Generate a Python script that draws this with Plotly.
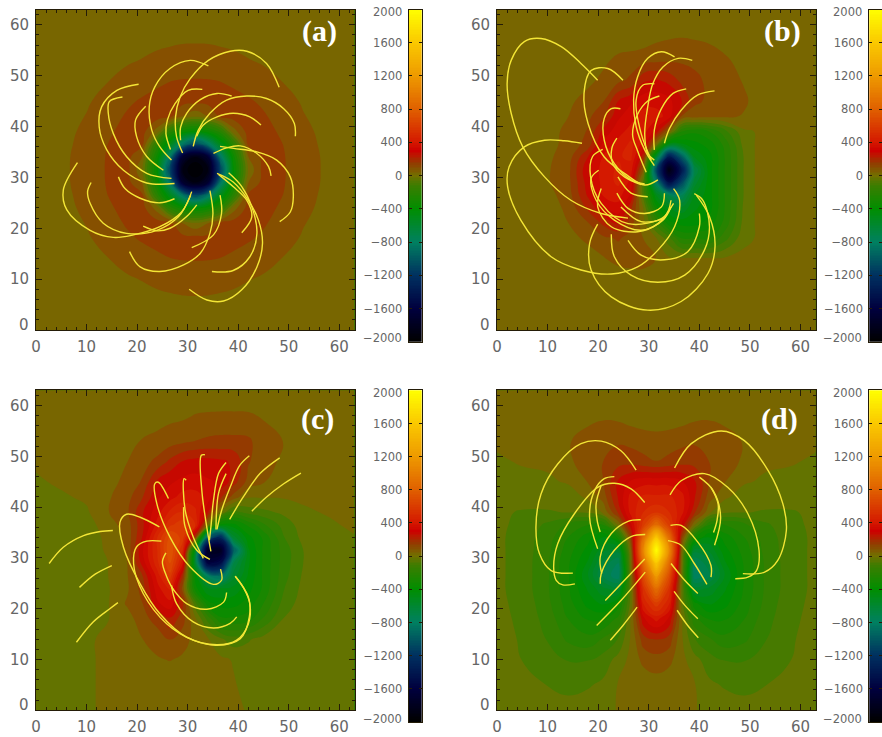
import plotly.graph_objects as go

W, H = 882, 737

# ---------- data ----------
x_grid = [0, 5, 10, 14, 18, 21, 24, 26.5, 29, 31.5, 34, 36.5, 39, 42, 45, 49, 53, 58, 63]
y_rows = [63, 58, 53, 49, 45, 42, 39, 36.5, 34, 31.5, 29, 26.5, 24, 21, 18, 14, 10, 5, 0]

# values in hundreds, rows listed from the top of each panel down
z_a = [
 [.05,.05,.05,.05,.05,.1,.13,.15,.17,.17,.17,.15,.13,.1,.05,.05,.05,.05,.05],
 [.05,.05,.05,.16,.28,.35,.41,.44,.47,.475,.47,.44,.41,.35,.28,.16,.05,.05,.05],
 [.05,.05,.24,.4,.54,.64,.75,.82,.875,.885,.875,.82,.75,.64,.54,.4,.24,.05,.05],
 [.05,.16,.4,.585,.82,1,1.146,1.23,1.27,1.28,1.27,1.23,1.146,1,.82,.585,.4,.16,.05],
 [.05,.28,.54,.82,1.146,1.3,1.4,1.44,1.47,1.48,1.47,1.44,1.4,1.3,1.146,.82,.54,.28,.05],
 [.1,.35,.64,1,1.3,1.42,1.5,1.4,.6,.1,.6,1.4,1.5,1.42,1.3,1,.64,.35,.1],
 [.13,.41,.75,1.146,1.4,1.5,.3,-2.2,-3.5,-4,-3.5,-2.2,.3,1.5,1.4,1.146,.75,.41,.13],
 [.15,.44,.82,1.23,1.44,1.4,-2.2,-5,-8.5,-11,-8.5,-5,-2.2,1.4,1.44,1.23,.82,.44,.15],
 [.17,.47,.875,1.27,1.47,.6,-3.5,-8.5,-17,-19,-17,-8.5,-3.5,.6,1.47,1.27,.875,.47,.17],
 [.17,.475,.885,1.28,1.48,.1,-4,-11,-19,-20,-19,-11,-4,.1,1.48,1.28,.885,.475,.17],
 [.17,.47,.875,1.27,1.47,.6,-3.5,-8.5,-17,-19,-17,-8.5,-3.5,.6,1.47,1.27,.875,.47,.17],
 [.15,.44,.82,1.23,1.44,1.4,-2.2,-5,-8.5,-11,-8.5,-5,-2.2,1.4,1.44,1.23,.82,.44,.15],
 [.13,.41,.75,1.146,1.4,1.5,.3,-2.2,-3.5,-4,-3.5,-2.2,.3,1.5,1.4,1.146,.75,.41,.13],
 [.1,.35,.64,1,1.3,1.42,1.5,1.4,.6,.1,.6,1.4,1.5,1.42,1.3,1,.64,.35,.1],
 [.05,.28,.54,.82,1.146,1.3,1.4,1.44,1.47,1.48,1.47,1.44,1.4,1.3,1.146,.82,.54,.28,.05],
 [.05,.16,.4,.585,.82,1,1.146,1.23,1.27,1.28,1.27,1.23,1.146,1,.82,.585,.4,.16,.05],
 [.05,.05,.24,.4,.54,.64,.75,.82,.875,.885,.875,.82,.75,.64,.54,.4,.24,.05,.05],
 [.05,.05,.05,.16,.28,.35,.41,.44,.47,.475,.47,.44,.41,.35,.28,.16,.05,.05,.05],
 [.05,.05,.05,.05,.05,.1,.13,.15,.17,.17,.17,.15,.13,.1,.05,.05,.05,.05,.05],
]

z_b = [
 [.1]*19,
 [.1,.1,.1,.1,.1,.1,.1,.1,.2,.4,.5,.55,.5,.4,.2,.1,.1,.1,.1],
 [.1,.1,.1,.1,.2,.45,.8,.9,1,1.1,1.15,1.15,1.1,1,.75,.3,.1,.1,.1],
 [.1,.1,.1,.2,.45,.8,1.1,1.4,2.4,2.6,2.3,1.7,1.4,1.1,.9,.55,.1,.1,.1],
 [.1,.1,.1,.45,.9,1.2,2.5,3,3.5,3.5,3.3,2.5,1.4,1.1,.9,.7,.2,.1,.1],
 [.1,.1,.3,.6,1.1,1.7,3,3.5,4,4,3.5,1.2,.9,.8,.75,.55,.1,.1,.1],
 [.1,.1,.4,.75,1.3,2.7,3.5,4,4,2.8,.5,-2.5,-3,-2.5,-1.5,-.1,.1,.1,.1],
 [.1,.1,.4,.8,1.5,3.3,4,4.5,3.5,.01,-5,-4.5,-4,-3.5,-2.3,-.3,.3,.1,.1],
 [.1,.1,.5,.9,2.5,3.8,4.3,4.5,2,-6,-14,-10,-5,-4,-2.5,-.5,.5,.1,.1],
 [.1,.1,.55,1,3,4,4.5,4,.5,-11,-19,-14,-7,-4,-2.5,-.5,.5,.1,.1],
 [.1,.1,.55,1,2.8,4,4.5,3.5,-1,-8,-15,-11,-6,-4,-2.5,-.5,.5,.1,.1],
 [.1,.1,.4,.9,2.6,3.8,4,3,-1,-5,-7,-7.5,-5,-4,-2.5,-.5,.5,.1,.1],
 [.1,.1,.3,.75,2,3,3.5,2,-.1,-3.5,-5,-5.5,-4.5,-4,-2.5,-.4,.4,.1,.1],
 [.1,.1,.1,.6,1.2,2,2.5,1.5,.2,-1.5,-3.5,-4,-4,-3.5,-2.3,-.3,.3,.1,.1],
 [.1,.1,.1,.3,.8,1.1,1.3,1,.6,.01,-1,-2.5,-2.5,-2.5,-1.5,-.1,.1,.1,.1],
 [.1,.1,.1,.1,.2,.55,.9,1,.9,.6,.1,.1,.1,.1,.1,.1,.1,.1,.1],
 [.1,.1,.1,.1,.1,.1,.1,.2,.3,.4,.2,.1,.1,.1,.1,.1,.1,.1,.1],
 [.1]*19,
 [.1]*19,
]

z_c = [
 [.1]*19,
 [.1,.1,.1,.1,.15,.25,.35,.45,.5,.65,.7,.72,.72,.7,.55,.2,.1,.1,.1],
 [.1,.1,.1,.1,.45,.65,.8,.95,1.1,1.25,1.35,1.4,1.4,1.35,.9,.6,.1,.1,.1],
 [.1,.1,.1,.2,.6,1,1.4,2,2.5,2.7,2.7,2.6,2.4,1.3,.85,.5,.1,.1,.1],
 [-.1,.1,.1,.35,.8,1.3,2.6,3,3.3,3.4,3.2,3,2.2,1,.65,.35,.1,.1,.1],
 [-.3,-.1,.1,.5,1,1.8,3,3.5,4,4,3.5,2,1,.05,.05,.05,.1,.1,.1],
 [-.3,-.3,-.1,.55,1.1,2.4,3.5,4.5,5,4.5,2.5,-.1,-1.5,-1,-.8,-.5,-.1,.05,.1],
 [-.3,-.3,-.3,.3,.9,2.3,4,5.5,6,5,0.01,-4,-4,-3,-2,-1,-.3,-.1,.1],
 [-.3,-.3,-.3,.1,.8,2.5,5,7,6,1.5,-10,-13,-6,-4,-3,-1.3,-.4,-.1,-.05],
 [-.3,-.3,-.3,.05,.7,3,5,7.5,5,-5,-18,-18,-10,-4.5,-3,-1.6,-.6,-.3,-.2],
 [-.3,-.3,-.25,-.05,.6,2.7,4.8,7,4,-6,-16,-15,-7,-4.5,-3,-1.6,-.6,-.3,-.3],
 [-.3,-.3,-.3,-.05,.55,1.8,4,6,2,-4,-8,-9,-6,-4.3,-3,-1.5,-.5,-.3,-.3],
 [-.3,-.3,-.3,-.1,.5,1.5,3.5,4.5,1,-3.5,-5,-5,-4.8,-4,-3,-1.3,-.4,-.3,-.3],
 [-.3,-.3,-.3,-.1,.7,1.2,3,3.5,2,-1,-3.5,-4,-4,-3.5,-2.5,-1,-.3,-.3,-.3],
 [-.3,-.3,-.3,-.05,.3,1,1.5,2.4,1.5,.1,-1.5,-3,-3,-2.8,-1.8,-.6,-.3,-.3,-.3],
 [-.3,-.3,-.1,.1,.2,.6,.9,1.25,.9,.4,.05,-.5,-1,-.7,-.4,-.3,-.3,-.3,-.3],
 [-.3,-.3,-.1,.1,.1,.2,.55,.65,.5,.15,.1,.1,-.05,-.3,-.3,-.3,-.3,-.3,-.3],
 [-.3,-.3,-.1,.1,.1,.1,.1,.1,.1,.1,.1,.1,.05,-.2,-.3,-.3,-.3,-.3,-.3],
 [-.3,-.3,-.1,.1,.1,.1,.1,.1,.1,.1,.1,.1,.1,-.05,-.3,-.3,-.3,-.3,-.3],
]

z_d = [
 [.1]*19,
 [.1,.1,.1,.2,.4,.5,.45,.3,.2,.15,.2,.3,.45,.5,.4,.2,.1,.1,.1],
 [.1,.1,.1,.55,.9,1.1,1.15,1.05,.95,.9,.95,1.05,1.15,1.1,.9,.55,.1,.1,.1],
 [-.1,.05,.1,.5,.9,1.25,1.6,1.6,1.4,1.25,1.4,1.6,1.6,1.25,.9,.5,.1,.05,-.1],
 [-.2,-.2,-.1,.05,.65,1.2,2.6,3.2,3.5,3.5,3.5,3.2,2.6,1.2,.65,.05,-.1,-.2,-.2],
 [-.3,-.3,-.3,-.3,.1,.9,2.6,4,4.5,4.5,4.5,4,2.6,.9,.1,-.3,-.3,-.3,-.3],
 [-.5,-.7,-.7,-.6,-.5,.1,2,4,5,5.5,5,4,2,.1,-.5,-.6,-.7,-.7,-.5],
 [-.5,-.8,-1.4,-2,-2.5,-2.5,.1,3,6,9,6,3,.1,-2.5,-2.5,-2,-1.4,-.8,-.5],
 [-.5,-.9,-1.6,-2.5,-3.5,-4.5,-3,1.5,9,16,9,1.5,-3,-4.5,-3.5,-2.5,-1.6,-.9,-.5],
 [-.5,-.9,-1.7,-2.8,-4,-5.5,-6,.5,11,20,11,.5,-6,-5.5,-4,-2.8,-1.7,-.9,-.5],
 [-.5,-.9,-1.8,-3,-4.5,-6.5,-7.5,.2,9,16,9,.2,-7.5,-6.5,-4.5,-3,-1.8,-.9,-.5],
 [-.5,-.9,-1.8,-3,-5,-7,-8,.1,7,12,7,.1,-8,-7,-5,-3,-1.8,-.9,-.5],
 [-.5,-.9,-1.8,-3,-4.5,-5.5,-6,-.2,5.5,9,5.5,-.2,-6,-5.5,-4.5,-3,-1.8,-.9,-.5],
 [-.5,-.8,-1.7,-2.8,-4,-4.5,-3.5,-.3,4.5,6,4.5,-.3,-3.5,-4.5,-4,-2.8,-1.7,-.8,-.5],
 [-.4,-.8,-1.5,-2.5,-3.2,-3.2,-2.3,.1,3,4,3,.1,-2.3,-3.2,-3.2,-2.5,-1.5,-.8,-.4],
 [-.4,-.7,-1.3,-2,-2.3,-1.8,-1.2,.1,1.6,1.9,1.6,.1,-1.2,-1.8,-2.3,-2,-1.3,-.7,-.4],
 [-.3,-.65,-1,-1.3,-1.3,-1,-.4,.2,.8,1,.8,.2,-.4,-1,-1.3,-1.3,-1,-.65,-.3],
 [-.3,-.4,-.65,-.8,-.7,-.5,.05,.1,.2,.3,.2,.1,.05,-.5,-.7,-.8,-.65,-.4,-.3],
 [-.1,-.3,-.3,-.4,-.3,-.3,.05,.1,.1,.1,.1,.1,.05,-.3,-.3,-.4,-.3,-.3,-.1],
]

lines_a = [
 [(48.1,47.7),(45.6,52.4),(41.7,54.8),(38.4,54.8),(34.1,53),(30.5,49.4),(28.5,45.8),(27.6,41.9),(27.8,38),(29,34.8)],
 [(34.1,51.9),(30.5,53),(26.5,51.4),(23.5,47.8),(22.4,43.9),(22.9,39.3),(24.5,36),(26.8,33.4)],
 [(32.9,47.3),(30.1,47.1),(27.5,44.5),(26,41.3),(25.7,38.6),(26.6,35.5)],
 [(38.7,46),(35.8,46.5),(32.5,45.3),(29.8,42.6),(28.6,39.9),(28.6,37.3)],
 [(51.3,38.1),(51.1,40.6),(49,43.5),(45.6,45.5),(41.7,46),(37.7,45.2),(34.4,42.6),(32.1,39.3),(31.1,36.1)],
 [(44.5,40.3),(42.3,41.9),(39,42.6),(35.8,41.9),(33.1,40.3),(31.8,38.1)],
 [(48.2,21.3),(50.3,23.2),(50.9,26.2),(50.3,30.1),(47.6,33.4),(43.7,35),(39.1,35.7),(36.4,36.1)],
 [(35.1,34.7),(37.7,35.8),(40.4,36.2),(43.7,34.7),(46,32.1),(46.5,30.3)],
 [(35.8,30.8),(39,29.1),(42,25.5),(44,21.6),(44.8,17),(43.7,12.4),(40.7,7.9),(37.1,5.7),(33.8,5.9),(30.3,8)],
 [(38.1,30.9),(40.7,28.2),(42.7,24.2),(43.7,19),(42.3,14.4),(39,11.7),(34.8,11.5)],
 [(36.1,30.6),(39.1,28.1),(41.7,25.5),(42.7,22.3),(40.7,19.1)],
 [(34.4,27.4),(35,22.9),(34.4,19),(32.5,15.1),(29.2,12.8),(24.5,11.5),(20.6,12.4),(18.5,15.4)],
 [(36.4,26.5),(36.7,22.9),(35.1,18.7),(30.8,16.2)],
 [(30.8,27.2),(28.8,23.2),(24.5,20.3),(19.3,18.7),(15.3,18.2),(10.7,19.6),(6.1,23.6),(5.4,27.5),(8.2,32.9)],
 [(30.6,26.5),(28.2,22.3),(23.9,19.6),(17.9,19),(13.3,21),(10.7,24.9),(10.2,27.2),(10.9,29)],
 [(31.8,24.6),(29.8,22.3),(26.5,20),(23.9,19.5),(21.2,20.4)],
 [(27.4,25.8),(24.5,25),(20.6,25.9),(17.6,27.8),(16.3,30.1)],
 [(27.4,28.8),(21.9,28.9),(17.3,31.4),(14,35.4),(12.5,39.9),(13,43.9),(16,47.1),(20.3,48.3)],
 [(26.8,29.8),(21.9,30.8),(17.9,34.1),(15.3,38.6),(14.3,42.6),(14.5,44.9),(17.1,45.8)],
 [(25.2,31.4),(21.9,34.1),(19.9,38),(19.7,41.3),(21.7,44)],
]

lines_b = [
 [(19.9,49.1),(16.6,52.4),(12.7,55.7),(8.7,57.3),(5.4,56.7),(2.8,53),(2,48.4),(2.8,42.6),(5.1,36),(9.4,30.1),(14.6,25.5),(20.6,22.9),(25.9,22)],
 [(16.8,36.7),(13.3,37.2),(9.4,37.3),(5.4,36),(2.4,32.1),(2.1,28.2),(4.7,21.6),(10.7,14.4),(16.6,11.8),(22.6,11),(27.8,12.4),(31.8,15.7),(35.1,20.3),(36.1,25.5),(34.9,27.8)],
 [(24.9,49.1),(21.9,51.4),(18.6,51),(17.2,46.5),(18,40.6),(21.2,34),(25.2,30.8),(29.2,28.5),(31.8,29.5)],
 [(35.1,53.7),(32.5,54.7),(29.8,53.4),(27.8,49.8),(27,45.2),(27.5,40),(29.2,35.4),(31.1,32.3)],
 [(38.6,53),(35.8,53.4),(32.8,51.7),(30.8,48.4),(29.8,43.9),(29.2,38.6),(29.8,34.7),(31.1,33.4)],
 [(37.4,47.4),(34.8,46.5),(32.5,43.5),(31.1,39.3),(31.1,35.4)],
 [(43,47),(39.7,46.2),(36.4,43.2),(34.1,39.6),(33.1,36.7)],
 [(32.1,46),(29.8,45),(27.8,42.4),(26.8,38.4),(27.8,35.2),(29.5,31)],
 [(31.1,48.4),(28.8,48.1),(27.5,45.2),(28.5,38.6),(30.5,33.4)],
 [(24.4,43.5),(22.6,43.5),(21.2,41.6),(21.2,37.3),(23.2,32.7),(26.5,29.5),(29.2,28.7)],
 [(23.7,37.7),(22.7,35.7),(22.9,32.7),(25.2,30.1),(28.5,28.6)],
 [(20.9,35.5),(18.9,34.1),(18.5,30.1),(20.6,24.9),(25.9,20.9),(33.1,22.3),(34.4,25.5)],
 [(20.1,31.4),(18.6,29.8),(19.6,25.5),(23.2,21.6),(28.5,19.6),(32.8,21.6),(34.4,24.2)],
 [(20.6,27.8),(19.9,24.2),(22.6,20.3),(27.8,19.3),(31.8,20.9),(34.9,24.9)],
 [(23.7,26.9),(25.9,23.9),(29.2,22.9),(32.5,24.2),(33.1,26.9)],
 [(23.9,30.1),(26.5,26.9),(29.8,26.2)],
 [(24.5,24.2),(28.5,21.3),(33.1,21.9)],
 [(19.9,20.8),(18.3,17),(18.6,11.8),(22.6,6.5),(29.8,3.9),(36.4,5.6),(41.7,11.1),(43.1,16.4),(42,22.3),(39.4,26.5)],
 [(22.6,18.8),(23.2,14.4),(26.5,10.8),(31.8,9.4),(37.1,10.8),(41,15.7),(42,20.3),(40.7,25.5),(39,26.8)],
 [(25.9,17.6),(28.5,14.7),(33.1,13.8),(37.7,15.4),(40,20.3),(40,22.9)],
]

lines_c = [
 [(2.6,28.9),(5.4,32.1),(9.4,34.4),(12.7,35.2),(15.2,35.4)],
 [(8.6,24.2),(11.7,26.8),(15,28.5)],
 [(8,13.4),(11.3,17.4),(14.6,20),(16.2,21.2)],
 [(24.4,36.1),(20.6,38),(17.9,38.6),(16.6,37),(17.3,32.1),(20.6,24.9),(24.5,19),(29.8,14.4),(35.8,12.9),(39.7,13.8),(42,17),(42.3,21),(41,24.2),(39.4,26.4)],
 [(24.8,33.3),(21.9,33.3),(19.9,32.2),(19.3,28.9),(21.2,23),(25.9,17),(31.1,13.8),(35.8,12.8),(40.4,14.1),(42.2,18.4),(42,22.3),(39.4,26.4)],
 [(26.2,41.7),(24.2,44.9),(23.5,44.6),(23.9,40.7),(26.5,34.1),(30.5,28.2),(35.1,24.8),(36.7,25.6),(36.5,27.8)],
 [(29.7,45.3),(29.3,45.6),(29.5,39.4),(31.1,34.1),(33.1,29.9)],
 [(29.2,40),(29.5,36.1),(31.8,31.5),(34.4,29.7)],
 [(33.4,50.3),(32.7,50.2),(32.8,43.3),(34.1,34.1),(34.6,31.3)],
 [(37.6,48.8),(36.1,46.6),(35.1,41.3),(34.6,36.1),(34.3,33.5)],
 [(37.6,46.6),(36.1,42.7),(35.6,35.6)],
 [(42.2,50.1),(40.3,48.2),(38.4,43.9),(36.7,39.3),(35.8,35.6)],
 [(48.2,49.7),(44.3,46.6),(41,42),(38.3,37.6)],
 [(52.4,46.7),(49,44.6),(45.6,42),(42.7,39.2)],
 [(37.7,23.2),(37.1,21.3),(33.8,19.9),(29.8,21),(26.8,24.3)],
 [(39.7,18.4),(38.4,17.1),(35.1,16.2),(31.1,17.4),(27.8,21),(26.8,24.6)],
 [(25.7,31),(25,29.2),(25.9,26.2),(27.2,23.6)],
]

lines_d = [
 [(27.5,47.3),(24.5,51.1),(20.6,53),(16.6,52.5),(12,48.5),(8.7,42.6),(7.7,36.1),(8.4,30.8),(10.7,27.5),(15,27)],
 [(35.1,47.7),(38.4,52.5),(44.3,55),(48.9,53.1),(53.6,47.2),(56.5,40.7),(57.2,35.4),(55.5,29.5),(52.9,27.2),(48.6,26.9)],
 [(29.2,40.9),(26.5,43.6),(23.2,44.7),(19.9,43.9),(15.3,38.7),(12,32.8),(11.2,28.2),(11.7,25.6),(13,24.7),(15.4,24.9)],
 [(34.2,42.4),(36.4,45.2),(41,46.6),(45.6,43.9),(49.6,38.7),(51.8,31.5),(51.3,27.5),(49.6,26.2),(47.1,25.9)],
 [(23.2,46),(21.2,45.6),(19.3,43.3),(18.3,38),(19.9,31.8)],
 [(20.6,44.3),(19.6,40.7),(19.8,37.4),(20.4,35.1)],
 [(40,45.9),(42.7,43.3),(44.2,38),(43,32.5)],
 [(42.3,43.9),(43.7,40.7),(43.5,37.4),(42.8,35)],
 [(28.4,37.5),(25.9,37.2),(22.6,34.8),(20.4,30.2),(20.7,26.9)],
 [(29.3,34.6),(26.5,34.2),(23.2,31.5),(20.6,26.9),(20.4,24.9)],
 [(34.3,36.4),(36.4,36.4),(39.7,33.1),(42.3,28.5),(42.3,26.2)],
 [(33.8,33.4),(36.4,32.5),(39,28.9),(41.5,24.8)],
 [(29.2,29.8),(25.2,25.6),(21.4,21.6)],
 [(29.3,27.2),(24.5,21.6),(19.7,16.7)],
 [(27.7,20.3),(24.9,16.7),(22.4,13.8)],
 [(34.4,28.9),(37.1,25.6),(39.7,23)],
 [(35,23.4),(37.1,20.7),(39.7,18)],
 [(35.6,19.7),(37.7,16.7),(39.8,14.3)],
]

panel_labels = ["(a)", "(b)", "(c)", "(d)"]
panel_ticks = [0, 10, 20, 30, 40, 50, 60]
bar_ticks = [-1600, -1200, -800, -400, 0, 400, 800, 1200, 1600]
bar_ramp = list(range(-2000, 2001, 20))

# ---------- colour table ----------
anchors = [(-2000,(0,0,0)),(-1600,(0,0,62)),(-1200,(0,48,96)),(-800,(0,128,96)),(-400,(0,142,0)),
           (-120,(60,125,0)),(0,(114,112,0)),(150,(146,60,0)),(250,(190,20,0)),(300,(204,0,0)),(400,(212,24,0)),
           (800,(224,96,0)),(1200,(238,154,0)),(1600,(250,200,0)),(2000,(255,255,0))]
smooth_scale = [[(v + 2000) / 4000, "rgb(%d,%d,%d)" % c] for v, c in anchors]

# ---------- layout helpers ----------
def fx(px): return min(px / W, 1)
def fy(py): return min(max(1 - py / H, 0), 1)

panels = [
    dict(z=z_a, lines=lines_a, x0=36, x1=354.5, y0=9.5, y1=330, bx0=408.7, bx1=421.7, by1=341.7, lab=(319, 31)),
    dict(z=z_b, lines=lines_b, x0=497, x1=815.7, y0=9.5, y1=330, bx0=869.3, bx1=882, by1=341.7, lab=(782.7, 31)),
    dict(z=z_c, lines=lines_c, x0=36, x1=354.5, y0=390.3, y1=710.3, bx0=408.7, bx1=421.7, by1=722, lab=(317, 418.7)),
    dict(z=z_d, lines=lines_d, x0=497, x1=815.7, y0=390.3, y1=710.3, bx0=869.3, bx1=882, by1=722, lab=(779, 418.7)),
]

AX = "#241c08"
TXT = "#666666"
TICKFONT = dict(family="DejaVu Sans", size=15, color=TXT)
BARFONT = dict(family="DejaVu Sans", size=11.5, color=TXT)

fig = go.Figure()
layout = dict(width=W, height=H, margin=dict(l=0, r=0, t=0, b=0, autoexpand=False), autosize=False,
              paper_bgcolor="white", plot_bgcolor="white", showlegend=False)
annotations = []
minor_ticks = list(range(0, 64, 2))

for i, p in enumerate(panels):
    a = 2 * i + 1
    b = 2 * i + 2
    xn = "x" if a == 1 else f"x{a}"
    yn = "y" if a == 1 else f"y{a}"
    xb = f"x{b}"
    yb = f"y{b}"
    layout["xaxis" if a == 1 else f"xaxis{a}"] = dict(
        domain=[fx(p["x0"]), fx(p["x1"])], range=[0, 63], anchor=yn, layer="above traces",
        tickmode="array", tickvals=panel_ticks, ticks="inside", ticklen=6, tickwidth=1.2,
        tickcolor=AX, mirror="ticks", showline=True, linecolor=AX, linewidth=1, showgrid=False,
        zeroline=False, tickfont=TICKFONT, ticklabelstandoff=3,
        minor=dict(tickmode="array", tickvals=minor_ticks, ticks="inside", ticklen=3, tickwidth=1, tickcolor=AX, showgrid=False))
    layout["yaxis" if a == 1 else f"yaxis{a}"] = dict(
        domain=[fy(p["y1"]), fy(p["y0"])], range=[0, 63], anchor=xn, layer="above traces",
        tickmode="array", tickvals=panel_ticks, ticktext=[""] + [str(t) for t in panel_ticks[1:]],
        ticks="inside", ticklen=6, tickwidth=1.2, tickcolor=AX, mirror="ticks", showline=True,
        linecolor=AX, linewidth=1, showgrid=False, zeroline=False, tickfont=TICKFONT, ticklabelstandoff=3,
        minor=dict(tickmode="array", tickvals=minor_ticks, ticks="inside", ticklen=3, tickwidth=1, tickcolor=AX, showgrid=False))
    layout[f"xaxis{b}"] = dict(domain=[fx(p["bx0"]), fx(p["bx1"])], range=[0, 1], anchor=yb,
                               showticklabels=False, ticks="", showgrid=False, zeroline=False,
                               showline=True, linecolor=AX, linewidth=1, mirror=True)
    layout[f"yaxis{b}"] = dict(domain=[fy(p["by1"]), fy(p["y0"])], range=[-2000, 2000], anchor=xb,
                               tickmode="array", tickvals=bar_ticks, ticktext=[str(t).replace("-", "\u2212") for t in bar_ticks],
                               ticks="inside", ticklen=3, tickcolor=AX, mirror="ticks", showline=True,
                               linecolor=AX, linewidth=1, showgrid=False, zeroline=False,
                               tickfont=BARFONT, ticklabelstandoff=3)

    fig.add_trace(go.Contour(x=x_grid, y=y_rows, z=[[v * 100 for v in row] for row in p["z"]],
                             zmin=-2000, zmax=2000, colorscale=smooth_scale, showscale=False,
                             contours=dict(coloring="fill", start=-2001, end=2001, size=62.5, showlines=False),
                             line=dict(width=0, smoothing=1.3), hoverinfo="skip", xaxis=xn, yaxis=yn))
    for ln in p["lines"]:
        fig.add_trace(go.Scatter(x=[q[0] for q in ln], y=[q[1] for q in ln], mode="lines",
                                 line=dict(color="#f4e636", width=1.4, shape="spline", smoothing=1),
                                 hoverinfo="skip", xaxis=xn, yaxis=yn))
    fig.add_trace(go.Heatmap(x=[0, 1], y=bar_ramp, z=[[v, v] for v in bar_ramp], zmin=-2000, zmax=2000,
                             colorscale=smooth_scale, showscale=False, hoverinfo="skip",
                             xaxis=xb, yaxis=yb))

    annotations.append(dict(text="<b>%s</b>" % panel_labels[i], x=fx(p["lab"][0]), y=fy(p["lab"][1]), xref="paper", yref="paper",
                            showarrow=False, font=dict(family="Liberation Serif", size=30, color="white"),
                            xanchor="center", yanchor="middle"))
    annotations.append(dict(text="0", x=fx(p["x0"] - 5), y=fy(p["y1"] - 5), xref="paper", yref="paper", showarrow=False,
                            font=TICKFONT, xanchor="right", yanchor="middle"))
    annotations.append(dict(text="2000", x=fx(p["bx0"] - 5), y=fy(p["y0"] + 3), xref="paper", yref="paper", showarrow=False,
                            font=BARFONT, xanchor="right", yanchor="middle"))
    annotations.append(dict(text="\u22122000", x=fx(p["bx0"] - 5), y=fy(p["by1"] - 3.5), xref="paper", yref="paper", showarrow=False,
                            font=BARFONT, xanchor="right", yanchor="middle"))

layout["annotations"] = annotations
fig.update_layout(**layout)
fig.write_html("out.html", config={"displayModeBar": False},
               post_script="document.body.style.margin='0';document.documentElement.style.overflow='hidden';")
